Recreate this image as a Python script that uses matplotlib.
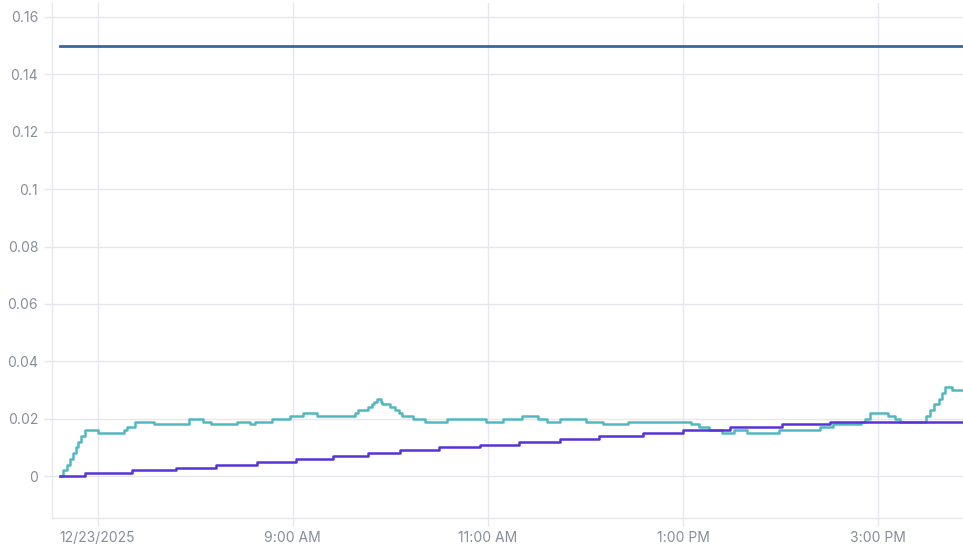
import pandas as pd
import matplotlib
matplotlib.use("Agg")
import matplotlib.pyplot as plt
import matplotlib.dates as mdates
from matplotlib.ticker import FuncFormatter

DAY = "2025-12-23 "

# cyan series (step changes)
cyan_times = ["06:37", "06:39", "06:41", "06:43", "06:45", "06:47", "06:48", "06:50", "06:52",
              "07:00", "07:16", "07:18", "07:23", "07:35", "07:56", "08:05", "08:10", "08:26",
              "08:34", "08:37", "08:47", "08:58", "09:06", "09:15", "09:38", "09:40", "09:46",
              "09:49", "09:50", "09:52", "09:54", "09:55", "10:00", "10:03", "10:05", "10:07",
              "10:14", "10:21", "10:35", "10:59", "11:09", "11:21", "11:31", "11:36", "11:44",
              "12:00", "12:11", "12:26", "13:05", "13:10", "13:16", "13:24", "13:31", "13:39",
              "13:59", "14:24", "14:32", "14:49", "14:52", "14:55", "15:06", "15:10", "15:13",
              "15:27", "15:29", "15:32", "15:34", "15:37", "15:39", "15:41", "15:45", "15:52"]
cyan_values = [0.000, 0.002, 0.004, 0.006, 0.008, 0.010, 0.012, 0.014, 0.016,
               0.015, 0.016, 0.017, 0.019, 0.018, 0.020, 0.019, 0.018, 0.019,
               0.018, 0.019, 0.020, 0.021, 0.022, 0.021, 0.022, 0.023, 0.024,
               0.025, 0.026, 0.027, 0.026, 0.025, 0.024, 0.023, 0.022, 0.021,
               0.020, 0.019, 0.020, 0.019, 0.020, 0.021, 0.020, 0.019, 0.020,
               0.019, 0.018, 0.019, 0.018, 0.017, 0.016, 0.015, 0.016, 0.015,
               0.016, 0.017, 0.018, 0.019, 0.020, 0.022, 0.021, 0.020, 0.019,
               0.019, 0.021, 0.023, 0.025, 0.027, 0.029, 0.031, 0.030, 0.030]

# purple series (slow staircase)
purple_times = ["06:37", "06:52", "07:21", "07:48", "08:13", "08:38", "09:02", "09:25", "09:46",
                "10:06", "10:30", "10:55", "11:19", "11:44", "12:08", "12:35", "13:00", "13:29",
                "14:01", "14:30", "15:52"]
purple_values = [0.000, 0.001, 0.002, 0.003, 0.004, 0.005, 0.006, 0.007, 0.008,
                 0.009, 0.010, 0.011, 0.012, 0.013, 0.014, 0.015, 0.016, 0.017,
                 0.018, 0.019, 0.019]

# flat limit line
limit_times = ["06:37", "15:52"]
limit_values = [0.15, 0.15]

tick_times = ["07:00", "09:00", "11:00", "13:00", "15:00"]
tick_labels = ["12/23/2025", "9:00 AM", "11:00 AM", "1:00 PM", "3:00 PM"]
y_ticks = [0, 0.02, 0.04, 0.06, 0.08, 0.1, 0.12, 0.14, 0.16]


def to_dt(times):
    return pd.to_datetime([DAY + t for t in times])


plt.rcParams['font.family'] = ['Inter', 'DejaVu Sans']
grid_c = "#e6e7ec"
text_c = "#878d99"

fig = plt.figure(figsize=(9.63, 5.54), dpi=100)
ax = fig.add_axes([0.054, 0.0644, 0.946, 0.9293])

ax.plot(to_dt(cyan_times), cyan_values, drawstyle="steps-post", color="#52b8c0", lw=1.8)
ax.plot(to_dt(purple_times), purple_values, drawstyle="steps-post", color="#5733d6", lw=1.8)
ax.plot(to_dt(limit_times), limit_values, color="#3a679f", lw=2.0)

ax.set_xlim(pd.Timestamp(DAY + "06:32"), pd.Timestamp(DAY + "15:52"))
ax.set_ylim(-0.0147, 0.1647)

ax.set_xticks(to_dt(tick_times))
ax.set_xticklabels(tick_labels)
ax.set_yticks(y_ticks)
ax.yaxis.set_major_formatter(FuncFormatter(lambda v, p: "%g" % round(v, 3)))

ax.grid(True, color=grid_c, lw=1.0)
ax.set_axisbelow(True)
for s in ["top", "right"]:
    ax.spines[s].set_visible(False)
for s in ["left", "bottom"]:
    ax.spines[s].set_color(grid_c)
    ax.spines[s].set_linewidth(1.0)
ax.tick_params(axis="both", colors=grid_c, length=6, width=1.0,
               labelcolor=text_c, labelsize=10)
ax.tick_params(axis="x", pad=3)
ax.tick_params(axis="y", pad=4)

fig.savefig("out.png", dpi=100)
